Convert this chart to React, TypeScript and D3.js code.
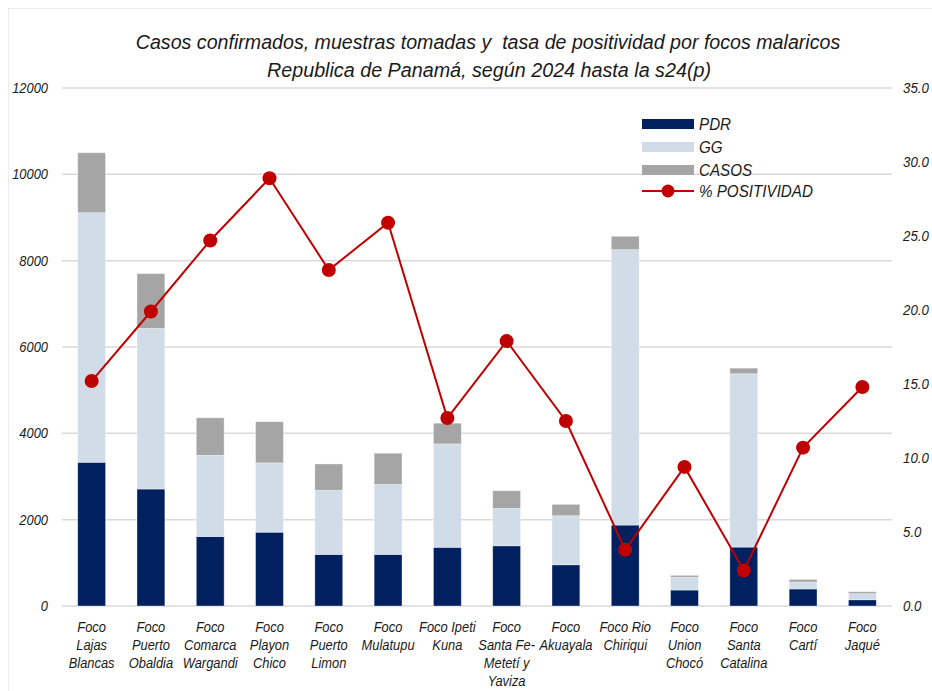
import * as d3 from 'd3';

const categories: string[][] = [
  ['Foco', 'Lajas', 'Blancas'],
  ['Foco', 'Puerto', 'Obaldia'],
  ['Foco', 'Comarca', 'Wargandi'],
  ['Foco', 'Playon', 'Chico'],
  ['Foco', 'Puerto', 'Limon'],
  ['Foco', 'Mulatupu'],
  ['Foco Ipeti', 'Kuna'],
  ['Foco', 'Santa Fe-', 'Metetí y', 'Yaviza'],
  ['Foco', 'Akuayala'],
  ['Foco Rio', 'Chiriqui'],
  ['Foco', 'Union', 'Chocó'],
  ['Foco', 'Santa', 'Catalina'],
  ['Foco', 'Cartí'],
  ['Foco', 'Jaqué'],
];

const pdr = [3330, 2710, 1610, 1710, 1195, 1195, 1360, 1395, 955, 1875, 370, 1365, 395, 145];
const gg = [5780, 3720, 1880, 1605, 1485, 1620, 2395, 865, 1135, 6380, 295, 4015, 160, 140];
const casos = [1390, 1270, 870, 955, 610, 725, 480, 410, 265, 310, 45, 130, 60, 45];
const positividad = [15.2, 19.9, 24.7, 28.9, 22.7, 25.9, 12.7, 17.9, 12.5, 3.8, 9.4, 2.4, 10.7, 14.8];

const leftTicks = [0, 2000, 4000, 6000, 8000, 10000, 12000];
const rightTicks = [0, 5, 10, 15, 20, 25, 30, 35];

const seriesNames = ['PDR', 'GG', 'CASOS'];
const seriesColors = ['#002060', '#D0DCE7', '#A5A5A5'];
const lineColor = '#C00000';

const W = 932;
const H = 691;
const FONT = "'Liberation Sans',Arial,sans-serif";

// Liberation Sans is wider than the narrow font in the original, squeeze it horizontally
function T({ x, y, sx = 0.9, anchor = 'start', size = 14, children }: any) {
  return (
    <text
      transform={`translate(${x},${y}) scale(${sx},1)`}
      textAnchor={anchor}
      fontSize={size}
      fontStyle="italic"
      fill="#1a1a1a"
      dy="0.35em"
    >
      {children}
    </text>
  );
}

export default function App() {
  const x = d3
    .scaleBand<number>()
    .domain(d3.range(categories.length))
    .range([62, 892])
    .paddingInner(0.53)
    .paddingOuter(0.265);
  const y = d3.scaleLinear().domain([0, 12000]).range([606, 88]);
  const y2 = d3.scaleLinear().domain([0, 35]).range([606, 88]);
  const cx = (i: number) => (x(i) as number) + x.bandwidth() / 2;

  const rows = categories.map((_, i) => ({ PDR: pdr[i], GG: gg[i], CASOS: casos[i] }));
  const stacked = d3.stack<{ [k: string]: number }>().keys(seriesNames)(rows);

  const line = d3
    .line<number>()
    .x((_, i) => cx(i))
    .y((d) => y2(d));

  const legendY = [124, 147, 170, 191];

  return (
    <div style={{ position: 'absolute', left: 0, top: 0 }}>
      <svg width={W} height={H} style={{ display: 'block', fontFamily: FONT }}>
        <rect x={0} y={0} width={W} height={H} fill="#fff" />
        <rect x={8.5} y={8.5} width={W} height={H} fill="none" stroke="#ececec" />

        <T x={488} y={42} sx={0.935} size={21} anchor="middle">
          Casos confirmados, muestras tomadas y{'\u00a0\u00a0'}tasa de positividad por focos malaricos
        </T>
        <T x={489} y={70} sx={0.94} size={21} anchor="middle">
          Republica de Panamá, según 2024 hasta la s24(p)
        </T>

        {leftTicks.map((t) => (
          <g key={'l' + t}>
            <line x1={62} x2={892} y1={y(t)} y2={y(t)} stroke="#d9d9d9" strokeWidth={1.5} />
            <T x={48} y={y(t)} anchor="end" sx={0.92}>
              {t}
            </T>
          </g>
        ))}

        {rightTicks.map((t) => (
          <T key={'r' + t} x={903} y={y2(t)} sx={0.95}>
            {t.toFixed(1)}
          </T>
        ))}

        {stacked.map((s, si) => (
          <g key={s.key} fill={seriesColors[si]}>
            {s.map((d, i) => (
              <rect
                key={i}
                x={x(i)}
                y={y(d[1])}
                width={x.bandwidth()}
                height={y(d[0]) - y(d[1])}
                stroke="rgba(255,255,255,0.45)"
                strokeWidth={0.8}
              />
            ))}
          </g>
        ))}

        <path d={line(positividad) ?? ''} fill="none" stroke={lineColor} strokeWidth={2} />
        {positividad.map((v, i) => (
          <circle key={i} cx={cx(i)} cy={y2(v)} r={7} fill={lineColor} />
        ))}

        {categories.map((lines, i) => (
          <text
            key={'c' + i}
            transform={`translate(${cx(i)},627) scale(0.86,1)`}
            textAnchor="middle"
            fontSize={15}
            fontStyle="italic"
            fill="#1a1a1a"
          >
            {lines.map((ln, j) => (
              <tspan key={j} x={0} y={j * 18} dy="0.35em">
                {ln}
              </tspan>
            ))}
          </text>
        ))}

        {seriesNames.map((n, i) => (
          <g key={'lg' + n}>
            <rect x={642} y={legendY[i] - 5} width={52} height={10} fill={seriesColors[i]} />
            <T x={699} y={legendY[i]} size={16} sx={0.95}>
              {n}
            </T>
          </g>
        ))}
        <line x1={642} x2={694} y1={legendY[3]} y2={legendY[3]} stroke={lineColor} strokeWidth={2} />
        <circle cx={668} cy={legendY[3]} r={6.5} fill={lineColor} />
        <T x={699} y={legendY[3]} size={16} sx={0.95}>
          % POSITIVIDAD
        </T>
      </svg>
    </div>
  );
}
